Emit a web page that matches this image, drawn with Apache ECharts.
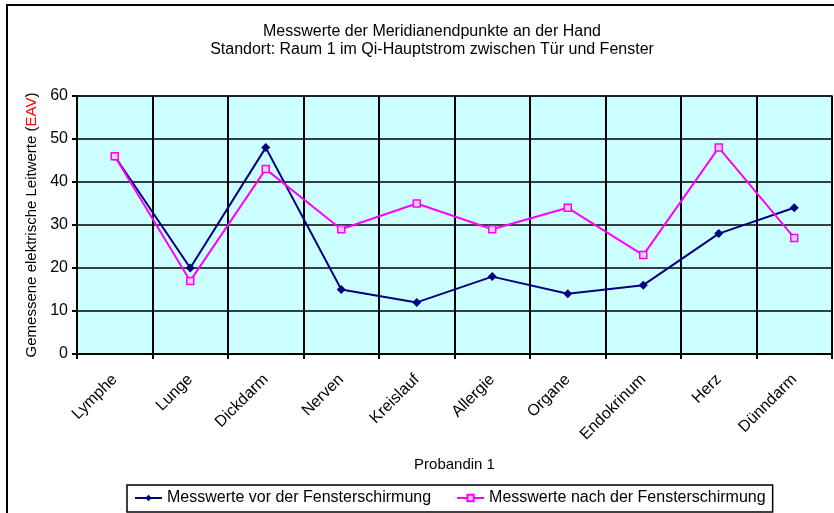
<!DOCTYPE html>
<html>
<head>
<meta charset="utf-8">
<script src="https://cdn.jsdelivr.net/npm/echarts@6/dist/echarts.min.js"></script>
<style>
    html, body { margin: 0; padding: 0; background: #fff; }
    #main { width: 834px; height: 513px; }
</style>
</head>
<body>
<div id="main"></div>
<script>
    // Probandin 1 - Meridianendpunkte
    var categories = ['Lymphe', 'Lunge', 'Dickdarm', 'Nerven', 'Kreislauf', 'Allergie', 'Organe', 'Endokrinum', 'Herz', 'Dünndarm'];
    var vorWerte = [46, 20, 48, 15, 12, 18, 14, 16, 28, 34];   // vor der Fensterschirmung
    var nachWerte = [46, 17, 43, 29, 35, 29, 34, 23, 48, 27];  // nach der Fensterschirmung
    var seriesNames = ['Messwerte vor der Fensterschirmung', 'Messwerte nach der Fensterschirmung'];

    var font = '"Liberation Sans", Arial, sans-serif';
    var diamond = 'path://M0,4 L4,0 L8,4 L4,8 Z';
    var chart = echarts.init(document.getElementById('main'));

    var option = {
        animation: false,
        textStyle: {fontFamily: font, color: '#000'},
        title: {
            text: 'Messwerte der Meridianendpunkte an der Hand\nStandort: Raum 1 im Qi-Hauptstrom zwischen Tür und Fenster',
            left: 427,
            top: 18,
            textAlign: 'center',
            textStyle: {fontSize: 16, fontWeight: 'normal', lineHeight: 18, color: '#000', fontFamily: font}
        },
        graphic: [{
            type: 'rect',
            shape: {x: 7, y: 5, width: 850, height: 540},
            style: {fill: 'none', stroke: '#000', lineWidth: 2},
            silent: true
        }],
        legend: {
            data: seriesNames,
            left: 127,
            top: 485,
            padding: [5, 7, 6, 7],
            itemGap: 25,
            itemWidth: 27,
            itemHeight: 8,
            borderColor: '#000',
            borderWidth: 1.5,
            textStyle: {fontSize: 16, fontFamily: font, color: '#000'}
        },
        grid: {
            left: 77,
            right: 2,
            top: 96,
            bottom: 159,
            show: true,
            backgroundColor: '#CCFFFF',
            borderColor: '#808080',
            borderWidth: 2
        },
        xAxis: {
            type: 'category',
            data: categories,
            boundaryGap: true,
            name: 'Probandin 1',
            nameLocation: 'middle',
            nameGap: 103,
            nameTextStyle: {fontSize: 15, fontFamily: font, color: '#000'},
            axisLine: {lineStyle: {color: '#000', width: 2}},
            axisTick: {show: true, length: 5, inside: false, lineStyle: {color: '#000', width: 2}},
            axisLabel: {rotate: 45, fontSize: 16, color: '#000', margin: 23, fontFamily: font},
            splitLine: {show: true, lineStyle: {color: '#000', width: 2}}
        },
        yAxis: {
            type: 'value',
            min: 0,
            max: 60,
            interval: 10,
            name: '{a|Gemessene elektrische Leitwerte (}{r|EAV}{a|)}',
            nameLocation: 'middle',
            nameGap: 38,
            nameTextStyle: {
                rich: {
                    a: {fontSize: 15, color: '#000', fontFamily: font},
                    r: {fontSize: 15, color: '#FF0000', fontFamily: font}
                }
            },
            axisLine: {show: true, lineStyle: {color: '#000', width: 2}},
            axisTick: {show: true, length: 5, lineStyle: {color: '#000', width: 2}},
            axisLabel: {fontSize: 16, color: '#000', margin: 9, fontFamily: font},
            splitLine: {show: true, lineStyle: {color: '#000', width: 1.5}}
        },
        series: [
            {
                name: seriesNames[0],
                type: 'line',
                data: vorWerte,
                symbol: diamond,
                symbolSize: 9,
                lineStyle: {color: '#000080', width: 2},
                itemStyle: {color: '#000080'},
                z: 3
            },
            {
                name: seriesNames[1],
                type: 'line',
                data: nachWerte,
                symbol: 'rect',
                symbolSize: 7,
                lineStyle: {color: '#FF00FF', width: 2},
                itemStyle: {color: '#FFCCFF', borderColor: '#FF00FF', borderWidth: 1.5},
                z: 4
            }
        ]
    };

    chart.setOption(option);
</script>
</body>
</html>
